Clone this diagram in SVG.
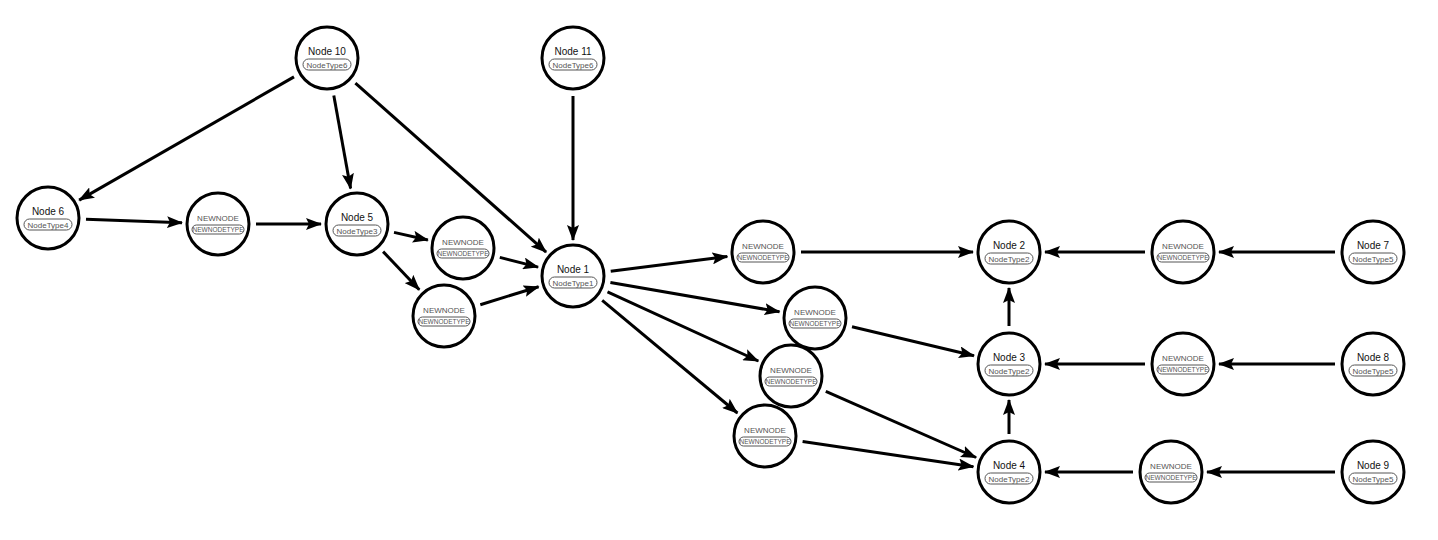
<svg xmlns="http://www.w3.org/2000/svg" width="1438" height="540" viewBox="0 0 1438 540">
<style>
.n circle{fill:#fff;stroke:#000;stroke-width:3}
.n rect{fill:#fff;stroke:#555;stroke-width:1}
.t{font-family:"Liberation Sans",Arial,sans-serif;font-size:10px;fill:#111;text-anchor:middle}
.s{font-family:"Liberation Sans",Arial,sans-serif;font-size:8px;fill:#555;text-anchor:middle}
.nn .t{font-size:8px;fill:#555}
.nn .s{font-size:6.5px}
#edges line{stroke:#000;stroke-width:3;marker-end:url(#a)}
</style>
<defs>
<marker id="a" markerUnits="userSpaceOnUse" markerWidth="16" markerHeight="12" refX="15" refY="6" orient="auto">
<path d="M0,0 L16,6 L0,12 L3,6 Z" fill="#000"/>
</marker>
</defs>
<rect width="1438" height="540" fill="#fff"/>
<g id="edges">
<line x1="294" y1="76.9" x2="79.2" y2="200.1"/>
<line x1="333.8" y1="95.4" x2="350.6" y2="188.6"/>
<line x1="355.4" y1="83.2" x2="546.1" y2="252.1"/>
<line x1="573" y1="96" x2="573" y2="240"/>
<line x1="86" y1="219.3" x2="182" y2="222.7"/>
<line x1="256" y1="224" x2="321" y2="224"/>
<line x1="394" y1="232.4" x2="427.9" y2="240"/>
<line x1="383.1" y1="251.6" x2="419.3" y2="289.8"/>
<line x1="499.8" y1="257.4" x2="538.1" y2="267.1"/>
<line x1="480.3" y1="304.7" x2="538.6" y2="286.7"/>
<line x1="610.7" y1="271.3" x2="727.3" y2="256.5"/>
<line x1="610.4" y1="282.5" x2="779.5" y2="311.8"/>
<line x1="607.5" y1="291.8" x2="758.3" y2="361"/>
<line x1="602.2" y1="300.3" x2="737.4" y2="413"/>
<line x1="801" y1="252" x2="973" y2="252"/>
<line x1="852" y1="326.8" x2="974" y2="355.7"/>
<line x1="825.8" y1="391.3" x2="976.1" y2="457.5"/>
<line x1="802.6" y1="441.5" x2="973.4" y2="466.7"/>
<line x1="1009" y1="326" x2="1009" y2="288"/>
<line x1="1009" y1="434" x2="1009" y2="400"/>
<line x1="1145" y1="252" x2="1045" y2="252"/>
<line x1="1335" y1="252" x2="1219" y2="252"/>
<line x1="1145" y1="364" x2="1045" y2="364"/>
<line x1="1335" y1="364" x2="1219" y2="364"/>
<line x1="1133" y1="472" x2="1045" y2="472"/>
<line x1="1335" y1="472" x2="1207" y2="472"/>
</g>
<g id="node10" class="n" transform="translate(327,58)"><circle r="31"/><text class="t" y="-3">Node 10</text><rect x="-24" y="1" width="48" height="11" rx="5.5"/><text class="s" y="9.5">NodeType6</text></g>
<g id="node11" class="n" transform="translate(573,58)"><circle r="31"/><text class="t" y="-3">Node 11</text><rect x="-24" y="1" width="48" height="11" rx="5.5"/><text class="s" y="9.5">NodeType6</text></g>
<g id="node6" class="n" transform="translate(48,218)"><circle r="31"/><text class="t" y="-3">Node 6</text><rect x="-24" y="1" width="48" height="11" rx="5.5"/><text class="s" y="9.5">NodeType4</text></g>
<g id="node5" class="n" transform="translate(357,224)"><circle r="31"/><text class="t" y="-3">Node 5</text><rect x="-24" y="1" width="48" height="11" rx="5.5"/><text class="s" y="9.5">NodeType3</text></g>
<g id="node1" class="n" transform="translate(573,276)"><circle r="31"/><text class="t" y="-3">Node 1</text><rect x="-24" y="1" width="48" height="11" rx="5.5"/><text class="s" y="9.5">NodeType1</text></g>
<g id="node2" class="n" transform="translate(1009,252)"><circle r="31"/><text class="t" y="-3">Node 2</text><rect x="-24" y="1" width="48" height="11" rx="5.5"/><text class="s" y="9.5">NodeType2</text></g>
<g id="node3" class="n" transform="translate(1009,364)"><circle r="31"/><text class="t" y="-3">Node 3</text><rect x="-24" y="1" width="48" height="11" rx="5.5"/><text class="s" y="9.5">NodeType2</text></g>
<g id="node4" class="n" transform="translate(1009,472)"><circle r="31"/><text class="t" y="-3">Node 4</text><rect x="-24" y="1" width="48" height="11" rx="5.5"/><text class="s" y="9.5">NodeType2</text></g>
<g id="node7" class="n" transform="translate(1373,252)"><circle r="31"/><text class="t" y="-3">Node 7</text><rect x="-24" y="1" width="48" height="11" rx="5.5"/><text class="s" y="9.5">NodeType5</text></g>
<g id="node8" class="n" transform="translate(1373,364)"><circle r="31"/><text class="t" y="-3">Node 8</text><rect x="-24" y="1" width="48" height="11" rx="5.5"/><text class="s" y="9.5">NodeType5</text></g>
<g id="node9" class="n" transform="translate(1373,472)"><circle r="31"/><text class="t" y="-3">Node 9</text><rect x="-24" y="1" width="48" height="11" rx="5.5"/><text class="s" y="9.5">NodeType5</text></g>
<g id="nnA" class="n nn" transform="translate(218,224)"><circle r="31"/><text class="t" y="-3">NEWNODE</text><rect x="-26" y="1" width="52" height="9" rx="4.5"/><text class="s" y="8">NEWNODETYPE</text></g>
<g id="nnB" class="n nn" transform="translate(463,248)"><circle r="31"/><text class="t" y="-3">NEWNODE</text><rect x="-26" y="1" width="52" height="9" rx="4.5"/><text class="s" y="8">NEWNODETYPE</text></g>
<g id="nnC" class="n nn" transform="translate(444,316)"><circle r="31"/><text class="t" y="-3">NEWNODE</text><rect x="-26" y="1" width="52" height="9" rx="4.5"/><text class="s" y="8">NEWNODETYPE</text></g>
<g id="nnD" class="n nn" transform="translate(763,252)"><circle r="31"/><text class="t" y="-3">NEWNODE</text><rect x="-26" y="1" width="52" height="9" rx="4.5"/><text class="s" y="8">NEWNODETYPE</text></g>
<g id="nnE" class="n nn" transform="translate(815,318)"><circle r="31"/><text class="t" y="-3">NEWNODE</text><rect x="-26" y="1" width="52" height="9" rx="4.5"/><text class="s" y="8">NEWNODETYPE</text></g>
<g id="nnF" class="n nn" transform="translate(791,376)"><circle r="31"/><text class="t" y="-3">NEWNODE</text><rect x="-26" y="1" width="52" height="9" rx="4.5"/><text class="s" y="8">NEWNODETYPE</text></g>
<g id="nnG" class="n nn" transform="translate(765,436)"><circle r="31"/><text class="t" y="-3">NEWNODE</text><rect x="-26" y="1" width="52" height="9" rx="4.5"/><text class="s" y="8">NEWNODETYPE</text></g>
<g id="nnH" class="n nn" transform="translate(1183,252)"><circle r="31"/><text class="t" y="-3">NEWNODE</text><rect x="-26" y="1" width="52" height="9" rx="4.5"/><text class="s" y="8">NEWNODETYPE</text></g>
<g id="nnI" class="n nn" transform="translate(1183,364)"><circle r="31"/><text class="t" y="-3">NEWNODE</text><rect x="-26" y="1" width="52" height="9" rx="4.5"/><text class="s" y="8">NEWNODETYPE</text></g>
<g id="nnJ" class="n nn" transform="translate(1171,472)"><circle r="31"/><text class="t" y="-3">NEWNODE</text><rect x="-26" y="1" width="52" height="9" rx="4.5"/><text class="s" y="8">NEWNODETYPE</text></g>
</svg>
